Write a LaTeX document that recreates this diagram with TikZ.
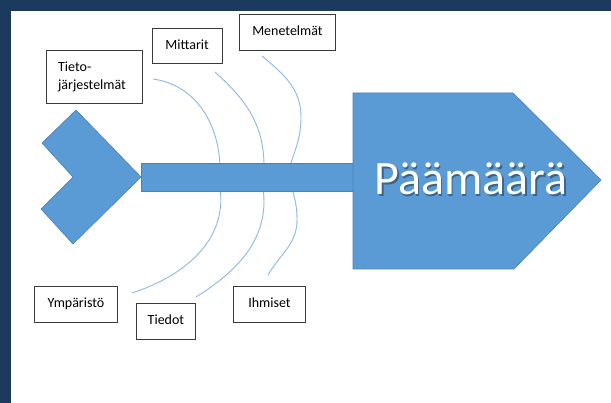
\documentclass[tikz,border=0pt]{standalone}
\usepackage{fontspec}
\setmainfont{Carlito}
\definecolor{bgnavy}{HTML}{1C3A5E}
\definecolor{fishblue}{HTML}{5B9BD5}
\definecolor{fishedge}{HTML}{4A80B8}
\definecolor{bonecol}{HTML}{8DB8E2}
\definecolor{boxedge}{HTML}{3A3A3A}
\begin{document}
\begin{tikzpicture}[x=1pt,y=1pt,
  labelbox/.style={draw=boxedge, line width=0.9pt, fill=white, inner sep=0pt,
    font=\fontsize{14}{18}\selectfont, align=left, anchor=north west},
  bone/.style={draw=bonecol, line width=0.9pt},
  fishshape/.style={fill=fishblue, draw=fishedge, line width=0.6pt}]
\useasboundingbox (0,0) rectangle (611,-403);
\fill[bgnavy] (0,0) rectangle (611,-403);
\fill[white] (11,-11) rectangle (611,-403);

% boxes
\node[labelbox, minimum width=96pt, minimum height=53pt] (tieto) at (45.7,-50) {\raisebox{2pt}{\parbox{72pt}{Tieto-\\järjestelmät}}};
\node[labelbox, minimum width=70pt, minimum height=35pt] (mittarit) at (151.7,-28) {\raisebox{3pt}{Mittarit}};
\node[labelbox, minimum width=96pt, minimum height=36pt] (menetelmat) at (239,-14) {\raisebox{4pt}{Menetelmät}};
\node[labelbox, minimum width=83pt, minimum height=36pt] (ymparisto) at (34,-286) {\raisebox{4pt}{Ympäristö}};
\node[labelbox, minimum width=59pt, minimum height=36pt] (tiedot) at (136,-303) {\raisebox{3pt}{Tiedot}};
\node[labelbox, minimum width=72pt, minimum height=36pt] (ihmiset) at (233,-286) {\raisebox{4pt}{Ihmiset}};

% bone end points
\coordinate (u1s) at (153,-79);  \coordinate (u1e) at (220,-166);
\coordinate (u2s) at (215,-72);  \coordinate (u2e) at (264,-166);
\coordinate (u3s) at (262,-56);  \coordinate (u3m) at (301,-117); \coordinate (u3e) at (290,-166);
\coordinate (l1s) at (220,-188); \coordinate (l1e) at (132,-293);
\coordinate (l2s) at (263,-188); \coordinate (l2e) at (196,-297);
\coordinate (l3s) at (292,-188); \coordinate (l3m) at (297,-220); \coordinate (l3e) at (268,-275);

\draw[bone] (u1s) to[out=-8,in=92] (u1e);
\draw[bone] (u2s) to[out=-42,in=90] (u2e);
\draw[bone] (u3s) to[out=-40,in=90] (u3m) to[out=-90,in=72] (u3e);
\draw[bone] (l1s) to[out=-82,in=18] (l1e);
\draw[bone] (l2s) to[out=-82,in=32] (l2e);
\draw[bone] (l3s) to[out=-75,in=90] (l3m) to[out=-90,in=60] (l3e);

% fish
\path[fishshape] (76,-110) -- (141,-177) -- (73,-244) -- (41,-209) -- (73,-177) -- (42,-143) -- cycle;
\path[fishshape] (141,-163) rectangle (353,-191);
\path[fishshape] (353,-93) -- (513,-93) -- (601,-180) -- (514,-269) -- (353,-269) -- cycle;

\node[anchor=base, text=black, opacity=0.35, font=\fontsize{48}{48}\selectfont] at (472.5,-196.5) {Päämäärä};
\node[anchor=base, text=white, font=\fontsize{48}{48}\selectfont] (goal) at (471,-195) {Päämäärä};
\end{tikzpicture}
\end{document}
